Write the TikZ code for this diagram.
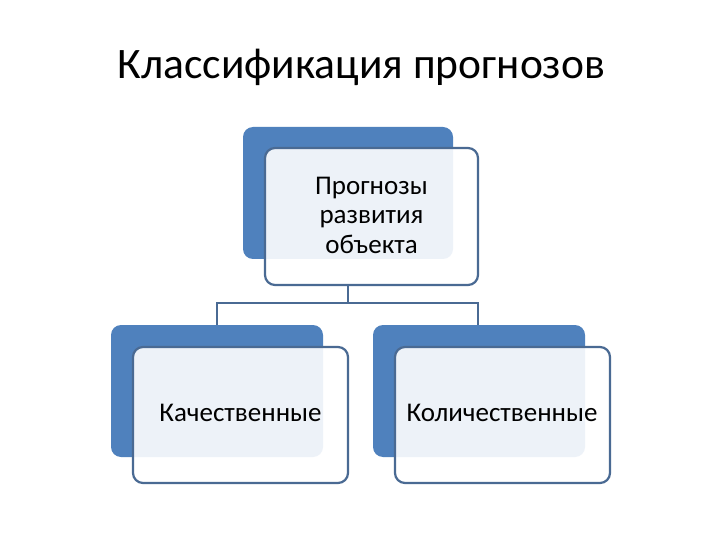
\documentclass[tikz,border=0pt]{standalone}
\usepackage{fontspec}
\setmainfont{Carlito}
\definecolor{accblue}{HTML}{4F81BD}
\definecolor{edgeblue}{HTML}{4A6A93}
\begin{document}
\begin{tikzpicture}[x=1bp,y=-1bp,
  backbox/.style={fill=accblue,rounded corners=10bp},
  frontbox/.style={draw=edgeblue,line width=2.2bp,fill=white,fill opacity=0.9,text opacity=1,rounded corners=10bp},
  link/.style={draw=edgeblue,line width=2.2bp},
  lbl/.style={font=\fontsize{27bp}{29.5bp}\selectfont,align=center,text=black}]
\useasboundingbox (0,0) rectangle (720,540);
\fill[white] (0,0) rectangle (720,540);
\node[font=\fontsize{43.5bp}{50bp}\selectfont] (title) at (361.5,67) {Классификация прогнозов};
% top
\fill[backbox] (243,127) rectangle (453,259);
\path[frontbox] (265,148) rectangle (478,285);
\node[lbl] (top) at (371.5,215) {Прогнозы\\развития\\объекта};
\coordinate (topb) at (348,285);
% left
\fill[backbox] (111,325) rectangle (323,457);
\path[frontbox] (133,347) rectangle (348,483);
\node[lbl] (left) at (240.5,413) {Качественные};
\coordinate (lt) at (217,325);
% right
\fill[backbox] (373,325) rectangle (585,457);
\path[frontbox] (395,347) rectangle (610,483);
\node[lbl] (right) at (502,413) {Количественные};
\coordinate (rt) at (478,325);
\draw[link] (topb) -- (348,303) -| (lt);
\draw[link] (348,303) -| (rt);
\end{tikzpicture}
\end{document}
